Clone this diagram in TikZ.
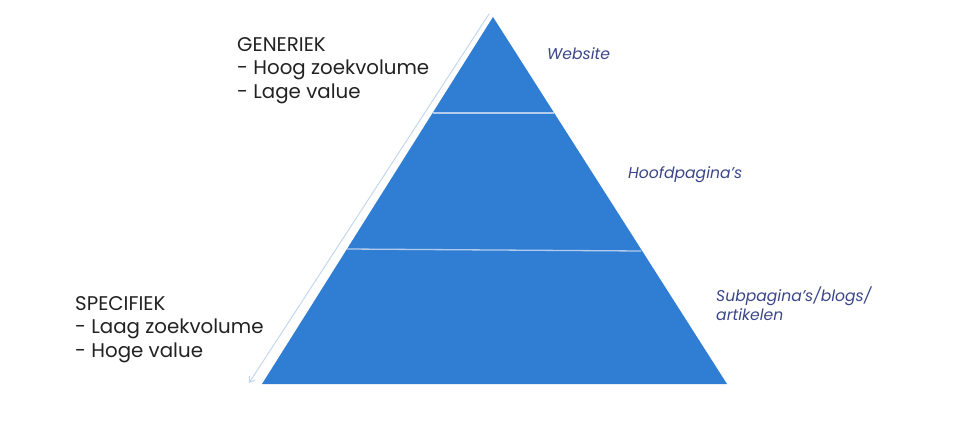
\documentclass[tikz,border=0pt]{standalone}
\usepackage{fontspec}
\setmainfont{Poppins}
\usetikzlibrary{arrows.meta}
\definecolor{pyr}{HTML}{2F7ED4}
\definecolor{divl}{HTML}{B4CCEC}
\definecolor{arrl}{HTML}{C4D6EE}
\definecolor{lbl}{HTML}{3B4688}
\definecolor{txt}{HTML}{222222}
\tikzset{
  sidetext/.style={anchor=north west, align=left, font=\fontsize{19.8}{23.5}\selectfont, text=txt, inner sep=0pt},
  layerlabel/.style={anchor=west, align=left, font=\fontsize{15.6}{18.5}\selectfont\itshape, text=lbl, inner sep=0pt},
  divider/.style={draw=divl, line width=1.3pt},
}
\begin{document}
\begin{tikzpicture}[x=1pt,y=-1pt]
\useasboundingbox (0,0) rectangle (980,438);
\coordinate (apex) at (493,17);
\coordinate (bl) at (262,384);
\coordinate (br) at (727,384);
\fill[pyr] (apex) -- (br) -- (bl) -- cycle;
\coordinate (d1l) at (433,113);
\coordinate (d1r) at (554,113);
\coordinate (d2l) at (347,249);
\coordinate (d2r) at (641,251);
\draw[divider] (d1l) -- (d1r);
\draw[divider] (d2l) -- (d2r);
\coordinate (atop) at (489,14);
\coordinate (abot) at (249,383);
\draw[arrl, line width=1pt, -{Straight Barb[length=5pt,width=7pt]}] (atop) -- (abot);
\node[sidetext] (gen) at (237,37) {GENERIEK\\- Hoog zoekvolume\\- Lage value};
\node[sidetext] (spec) at (75,296) {SPECIFIEK\\- Laag zoekvolume\\- Hoge value};
\node[layerlabel] (web) at (547,54) {Website};
\node[layerlabel] (hoofd) at (628,175) {Hoofdpagina's};
\node[layerlabel, anchor=north west] (sub) at (716,287) {Subpagina's/blogs/\\artikelen};
\end{tikzpicture}
\end{document}
